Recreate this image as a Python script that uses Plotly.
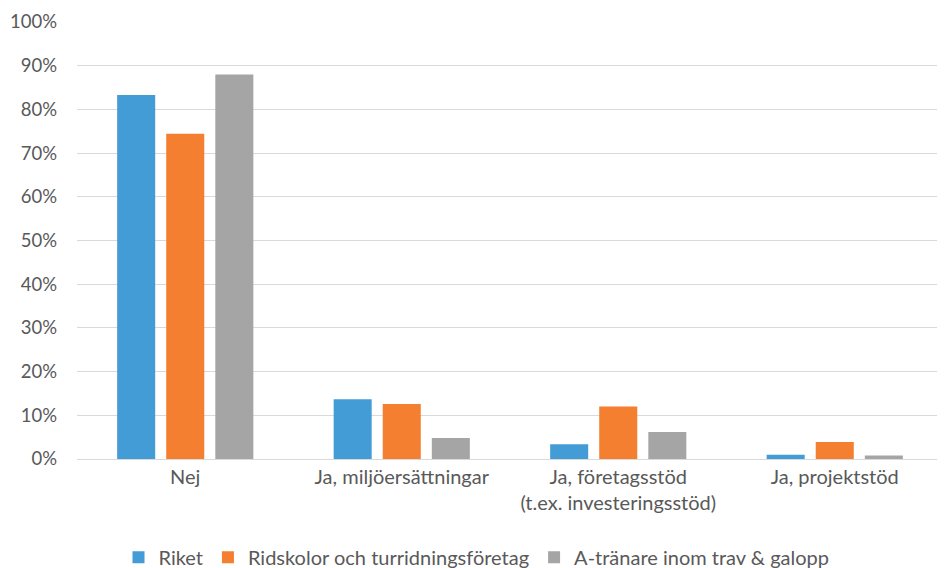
import plotly.graph_objects as go

categories = ["Nej", "Ja, miljöersättningar", "Ja, företagsstöd<br>(t.ex. investeringsstöd)", "Ja, projektstöd"]
series_names = ["Riket", "Ridskolor och turridningsföretag", "A-tränare inom trav & galopp"]
riket = [0.833, 0.137, 0.034, 0.010]
ridskolor = [0.744, 0.126, 0.120, 0.039]
atranare = [0.880, 0.048, 0.062, 0.008]
colors = ["#449CD6", "#F47F30", "#A5A5A5"]
ticks = [i / 10 for i in range(11)]
tick_labels = [f"{i*10}%" for i in range(11)]

fig = go.Figure()
for name, vals, c in zip(series_names, [riket, ridskolor, atranare], colors):
    fig.add_trace(go.Bar(name=name, x=categories, y=vals, marker=dict(color=c, line=dict(width=0))))

font = "Lato, 'Open Sans', sans-serif"
fig.update_layout(
    width=937, height=560,
    barmode="group", bargap=0.32, bargroupgap=0.225,
    plot_bgcolor="white", paper_bgcolor="white",
    margin=dict(l=69, r=2, t=14, b=109, autoexpand=False),
    font=dict(family=font, size=20, color="#595959"),
    yaxis=dict(range=[0, 1], tickvals=ticks, ticktext=tick_labels, showgrid=True,
               gridcolor="#D9D9D9", gridwidth=1, zeroline=False, showline=False,
               ticks="", ticklabelstandoff=19, automargin=False, tickfont=dict(size=18.5)),
    xaxis=dict(showline=True, linecolor="#D9D9D9", linewidth=1, ticks="", automargin=False,
               tickfont=dict(size=20)),
    legend=dict(orientation="h", xref="container", x=0.5, xanchor="center", y=-0.18, yanchor="top",
                font=dict(size=20), traceorder="normal", itemwidth=30),
    showlegend=True,
)
fig.write_html("out.html")
